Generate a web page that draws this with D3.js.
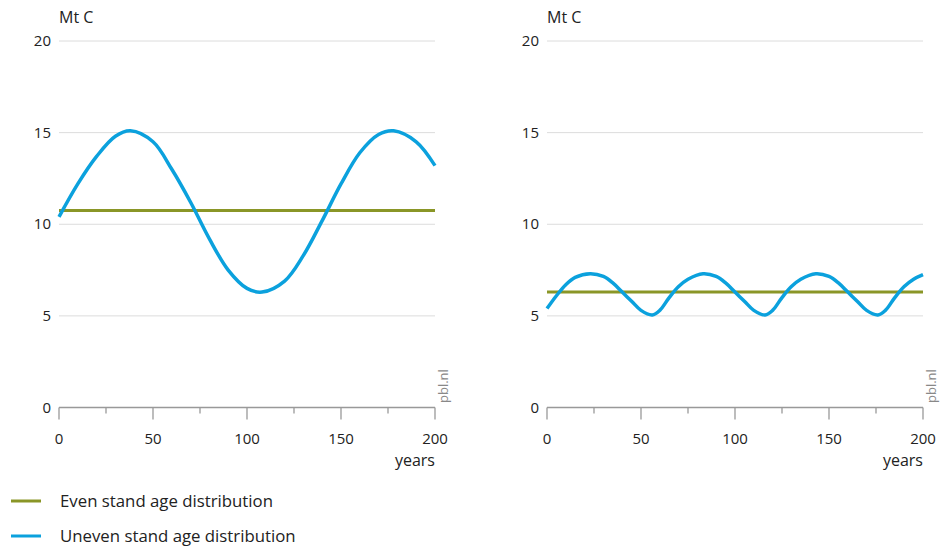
<!DOCTYPE html>
<html>
<head>
<meta charset="utf-8">
<script src="https://cdn.jsdelivr.net/npm/d3@7"></script>
<style>
  body { margin: 0; background: #fff; }
  svg { font-family: "Open Sans", "Noto Sans", sans-serif; }
</style>
</head>
<body>
<svg id="chart" width="942" height="549"></svg>
<script>
// ---- data ----
const yTicks = [0, 5, 10, 15, 20]
const xTicks = [0, 25, 50, 75, 100, 125, 150, 175, 200]
const xLabels = [0, 50, 100, 150, 200]

const leftYears = [0, 10, 20, 30, 38, 50, 60, 70, 80, 90, 100, 108, 120, 130, 140, 150, 160, 170, 178, 190, 200]
const leftUneven = [10.4, 12.2, 13.7, 14.8, 15.1, 14.5, 13.0, 11.2, 9.2, 7.5, 6.5, 6.3, 6.9, 8.3, 10.2, 12.2, 13.9, 14.9, 15.1, 14.5, 13.2]
const leftEven = 10.75

const rightYears = [0, 5, 10, 15, 23, 30, 35, 40, 45, 50, 56, 60, 65, 70, 75, 83, 90, 95, 100, 105, 110, 116, 120, 125, 130, 135, 143, 150, 155, 160, 165, 170, 176, 180, 185, 190, 195, 200]
const rightUneven = [5.4, 6.1, 6.7, 7.1, 7.3, 7.15, 6.8, 6.3, 5.8, 5.3, 5.05, 5.3, 6.0, 6.6, 7.0, 7.3, 7.15, 6.8, 6.3, 5.8, 5.3, 5.05, 5.3, 6.0, 6.6, 7.0, 7.3, 7.15, 6.8, 6.3, 5.8, 5.3, 5.05, 5.3, 6.0, 6.6, 7.0, 7.25]
const rightEven = 6.3

const seriesNames = ['Even stand age distribution', 'Uneven stand age distribution']
const colors = ['#8a9627', '#0ba1dd']

const svg = d3.select('#chart')

function panel(left, years, uneven, even) {
  const x = d3.scaleLinear().domain([0, 200]).range([left, left + 376])
  const y = d3.scaleLinear().domain([0, 20]).range([407.5, 41])
  const g = svg.append('g')

  // gridlines
  g.selectAll('.grid')
    .data(yTicks.filter(d => d > 0))
    .enter()
    .append('line')
      .attr('x1', x(0))
      .attr('x2', x(200))
      .attr('y1', d => y(d))
      .attr('y2', d => y(d))
      .attr('stroke', '#dcdcdc')
      .attr('stroke-width', 1)

  // y labels
  g.selectAll('.ylab')
    .data(yTicks)
    .enter()
    .append('text')
      .attr('x', x(0) - 8)
      .attr('y', d => y(d) + 5)
      .attr('text-anchor', 'end')
      .attr('font-size', 15)
      .attr('fill', '#222')
      .text(d => d)

  g.append('text')
    .attr('x', x(0))
    .attr('y', 23)
    .attr('font-size', 16)
    .attr('fill', '#222')
    .text('Mt C')

  // x axis
  g.append('line')
    .attr('x1', x(0)).attr('x2', x(200))
    .attr('y1', y(0)).attr('y2', y(0))
    .attr('stroke', '#999').attr('stroke-width', 1.3)

  g.selectAll('.xtick')
    .data(xTicks)
    .enter()
    .append('line')
      .attr('x1', d => x(d)).attr('x2', d => x(d))
      .attr('y1', y(0))
      .attr('y2', d => y(0) + (d % 50 === 0 ? 12 : 6))
      .attr('stroke', '#999').attr('stroke-width', 1.3)

  g.selectAll('.xlab')
    .data(xLabels)
    .enter()
    .append('text')
      .attr('x', d => x(d))
      .attr('y', 444)
      .attr('text-anchor', 'middle')
      .attr('font-size', 15)
      .attr('fill', '#222')
      .text(d => d)

  g.append('text')
    .attr('x', x(200))
    .attr('y', 466)
    .attr('text-anchor', 'end')
    .attr('font-size', 16)
    .attr('fill', '#222')
    .text('years')

  g.append('text')
    .attr('transform', `translate(${x(200) + 13}, 403) rotate(-90)`)
    .attr('font-size', 13)
    .attr('fill', '#888')
    .text('pbl.nl')

  // even line
  g.append('path')
    .datum([0, 200])
    .attr('fill', 'none')
    .attr('stroke', colors[0])
    .attr('stroke-width', 3)
    .attr('d', d3.line().x(d => x(d)).y(() => y(even)))

  // uneven line
  g.append('path')
    .datum(years.map((t, i) => [t, uneven[i]]))
    .attr('fill', 'none')
    .attr('stroke', colors[1])
    .attr('stroke-width', 3.5)
    .attr('d', d3.line().x(d => x(d[0])).y(d => y(d[1])).curve(d3.curveCatmullRom.alpha(0.5)))
}

panel(59, leftYears, leftUneven, leftEven)
panel(547, rightYears, rightUneven, rightEven)

// legend
const legend = svg.append('g')
seriesNames.forEach((name, i) => {
  const yy = 501 + i * 35
  legend.append('line')
    .attr('x1', 11).attr('x2', 41)
    .attr('y1', yy).attr('y2', yy)
    .attr('stroke', colors[i]).attr('stroke-width', 3)
  legend.append('text')
    .attr('x', 60)
    .attr('y', yy + 6)
    .attr('font-size', 16.8)
    .attr('fill', '#222')
    .text(name)
})
</script>
</body>
</html>
